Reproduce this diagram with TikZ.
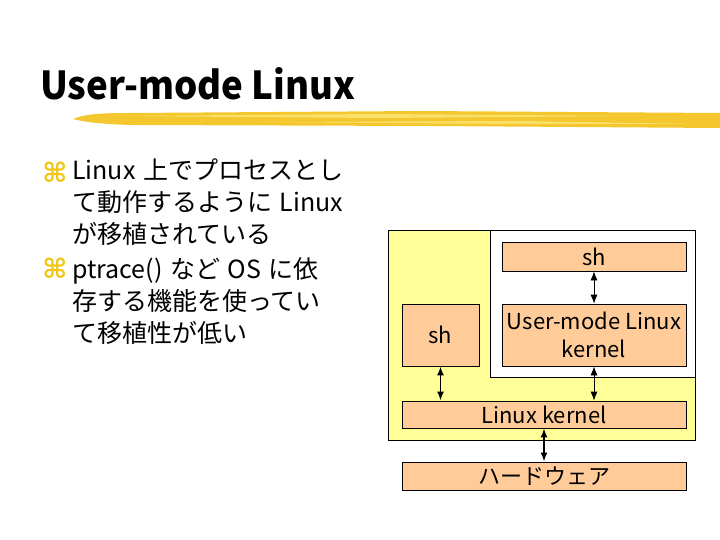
\documentclass[tikz,border=0pt]{standalone}
\usepackage{fontspec}
\setmainfont{Noto Sans CJK JP}
\newfontfamily\simbolo{DejaVu Sans}
\definecolor{CajaMelocoton}{RGB}{255,204,153}
\definecolor{AmarilloHost}{RGB}{255,255,153}
\definecolor{OroPincel}{RGB}{243,199,45}
\definecolor{OroClaro}{RGB}{250,224,105}
\definecolor{OroVineta}{RGB}{240,198,20}
\usetikzlibrary{arrows.meta}
\newcommand{\esp}{\hspace{0.3em}}

\begin{document}
\begin{tikzpicture}[x=1pt, y=-1pt,
	caja/.style={draw=black, line width=0.8pt, fill=CajaMelocoton, inner sep=0pt,
		align=center, font=\fontsize{22}{28}\selectfont},
	marco/.style={draw=black, line width=0.8pt, inner sep=0pt},
	flecha/.style={{Latex[length=9pt,width=7pt]}-{Latex[length=9pt,width=7pt]},
		line width=0.8pt},
	gruesa/.style={flecha, line width=1.7pt},
	cuerpo/.style={anchor=north west, inner sep=0pt, align=left,
		font=\fontsize{25}{32}\selectfont},
	vineta/.style={text=OroVineta, inner sep=0pt,
		font=\simbolo\bfseries\fontsize{27}{27}\selectfont}]

	\useasboundingbox (0,0) rectangle (720,540);

	% titulo y trazo de pincel
	\node[anchor=base west, inner sep=0pt] (titulo) at (40,100)
		{\resizebox{315pt}{32pt}{\bfseries User-mode Linux}};
	\fill[OroPincel] (73,119) .. controls (85,114) and (100,113) .. (130,113)
		-- (420,111) -- (720,113) -- (720,128) -- (430,126) -- (130,125)
		.. controls (100,124) and (85,122) .. cycle;
	\fill[OroClaro] (110,116) -- (380,114) -- (640,116) -- (380,118) -- cycle;
	\fill[OroClaro] (260,122) -- (520,121) -- (700,124) -- (520,124) -- cycle;

	% texto
	\node[vineta] (v1) at (55,172) {⌘};
	\node[cuerpo] (b1) at (72,159) {Linux\esp 上でプロセスとし\\て動作するように\esp Linux\\が移植されている};
	\node[vineta] (v2) at (55,268) {⌘};
	\node[cuerpo] (b2) at (72,257) {ptrace()\esp など\esp OS\esp に依\\存する機能を使ってい\\て移植性が低い};

	% diagrama
	\node[marco, fill=AmarilloHost, minimum width=307pt, minimum height=210pt] (host) at (541.5,335) {};
	\node[marco, fill=white, minimum width=205pt, minimum height=147pt] (uml) at (592.5,303.5) {};
	\node[caja, minimum width=184pt, minimum height=29pt] (shUml) at (594,256.5) {sh};
	\node[caja, minimum width=184pt, minimum height=62pt] (kUml) at (594,335) {User-mode Linux\\kernel};
	\node[caja, minimum width=77pt, minimum height=62pt] (shHost) at (440.5,335) {sh};
	\node[caja, minimum width=284pt, minimum height=27pt] (kHost) at (544,414.5) {Linux kernel};
	\node[caja, minimum width=284pt, minimum height=28pt] (hw) at (544,476) {ハードウェア};

	\draw[flecha] (shUml.south) -- (kUml.north);
	\draw[flecha] (kUml.south) -- (kUml.south |- kHost.north);
	\draw[gruesa] (shHost.south) -- (shHost.south |- kHost.north);
	\draw[gruesa] (kHost.south) -- (hw.north);
\end{tikzpicture}
\end{document}
